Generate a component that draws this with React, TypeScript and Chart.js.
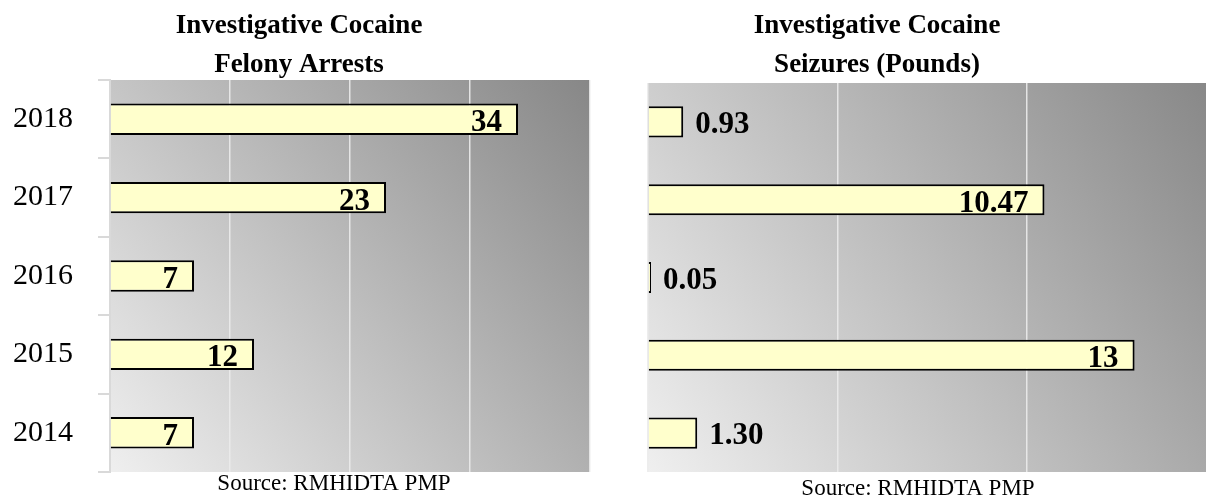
import React, { useEffect, useRef } from 'react';
import { Chart, registerables } from 'chart.js';

Chart.register(...registerables);

// ---- data ----
const years = ['2018', '2017', '2016', '2015', '2014'];
const arrestValues = [34, 23, 7, 12, 7];
const arrestLabels = ['34', '23', '7', '12', '7'];
const seizureValues = [0.93, 10.47, 0.05, 12.85, 1.3];
const seizureLabels = ['0.93', '10.47', '0.05', '13', '1.30'];
const arrestTitle = ['Investigative Cocaine', 'Felony Arrests'];
const seizureTitle = ['Investigative Cocaine', 'Seizures (Pounds)'];
const sourceText = 'Source: RMHIDTA PMP';
const arrestAxis = { max: 40, step: 10 };
const seizureAxis = { max: 15, step: 5 };

const SERIF = '"Liberation Serif", "Times New Roman", serif';

type PanelProps = {
  left: number;
  width: number;
  values: number[];
  labels: string[];
  title: string[];
  axisMax: number;
  axisStep: number;
  showYAxis: boolean;
  padding: { top: number; bottom: number; left: number; right: number };
  titleX: number;
  sourceX: number;
  sourceY: number;
  insideThreshold: number;
};

function Panel(p: PanelProps) {
  const ref = useRef<HTMLCanvasElement | null>(null);

  useEffect(() => {
    const canvas = ref.current;
    if (!canvas) return;

    const bgPlugin = {
      id: 'bgGradient',
      beforeDraw(chart: any) {
        const { ctx, chartArea: a } = chart;
        const g = ctx.createLinearGradient(a.left, a.bottom, a.right, a.top);
        g.addColorStop(0, '#efefef');
        g.addColorStop(1, '#878787');
        ctx.save();
        ctx.fillStyle = g;
        ctx.fillRect(a.left, a.top, a.right - a.left, a.bottom - a.top);
        ctx.restore();
      },
    };

    const labelPlugin = {
      id: 'valueLabels',
      afterDatasetsDraw(chart: any) {
        const { ctx } = chart;
        const meta = chart.getDatasetMeta(0);
        ctx.save();
        ctx.font = `bold 31px ${SERIF}`;
        ctx.fillStyle = '#000';
        ctx.textBaseline = 'alphabetic';
        meta.data.forEach((bar: any, i: number) => {
          const { x, y } = bar.getProps(['x', 'y'], true);
          const v = p.values[i];
          if (v > p.insideThreshold) {
            ctx.textAlign = 'right';
            ctx.fillText(p.labels[i], x - 16, y + 12);
          } else {
            ctx.textAlign = 'left';
            ctx.fillText(p.labels[i], x + 12, y + 11);
          }
        });
        ctx.restore();
      },
    };

    const textPlugin = {
      id: 'titles',
      afterDraw(chart: any) {
        const { ctx } = chart;
        ctx.save();
        ctx.fillStyle = '#000';
        ctx.textAlign = 'center';
        ctx.textBaseline = 'alphabetic';
        ctx.font = `bold 27px ${SERIF}`;
        ctx.fillText(p.title[0], p.titleX, 33);
        ctx.fillText(p.title[1], p.titleX, 72);
        ctx.font = `23px ${SERIF}`;
        ctx.fillText(sourceText, p.sourceX, p.sourceY);
        ctx.restore();
      },
    };

    const chart = new Chart(canvas, {
      type: 'bar',
      data: {
        labels: years,
        datasets: [
          {
            data: p.values,
            backgroundColor: '#FFFFCC',
            borderColor: '#000000',
            borderWidth: 2,
            barPercentage: 0.4,
            categoryPercentage: 1,
            minBarLength: 3,
          },
        ],
      },
      options: {
        indexAxis: 'y',
        responsive: false,
        animation: false,
        layout: { padding: p.padding },
        plugins: {
          legend: { display: false },
          tooltip: { enabled: false },
          title: { display: false },
        },
        scales: {
          x: {
            type: 'linear',
            min: 0,
            max: p.axisMax,
            ticks: { display: false, stepSize: p.axisStep },
            grid: {
              color: 'rgba(235,235,235,0.9)',
              lineWidth: 1.5,
              drawTicks: false,
            },
            border: { display: false },
            afterFit: (s: any) => {
              s.height = 0;
              s.paddingLeft = 0;
              s.paddingRight = 0;
            },
          },
          y: {
            type: 'category',
            display: p.showYAxis,
            grid: {
              display: true,
              drawOnChartArea: false,
              drawTicks: true,
              tickLength: 12,
              color: '#d9d9d9',
              lineWidth: 2,
              offset: true,
            },
            border: { display: true, color: '#d9d9d9', width: 2 },
            ticks: {
              color: '#000',
              font: { family: SERIF, size: 30 },
              padding: 25,
            },
            afterFit: (s: any) => {
              if (p.showYAxis) s.width = 110;
              s.paddingTop = 0;
              s.paddingBottom = 0;
            },
          },
        },
      },
      plugins: [bgPlugin, labelPlugin, textPlugin],
    } as any);

    return () => {
      chart.destroy();
    };
  }, []);

  return (
    <canvas
      ref={ref}
      width={p.width}
      height={497}
      style={{
        position: 'absolute',
        left: p.left,
        top: 0,
        width: p.width,
        height: 497,
      }}
    />
  );
}

export default function App() {
  return (
    <div
      style={{
        position: 'absolute',
        left: 0,
        top: 0,
        width: 1206,
        height: 497,
        overflow: 'hidden',
        background: '#ffffff',
      }}
    >
      <Panel
        left={0}
        width={600}
        values={arrestValues}
        labels={arrestLabels}
        title={arrestTitle}
        axisMax={arrestAxis.max}
        axisStep={arrestAxis.step}
        showYAxis={true}
        padding={{ top: 80, bottom: 25, left: 0, right: 10 }}
        titleX={299}
        sourceX={334}
        sourceY={490}
        insideThreshold={0}
      />
      <Panel
        left={600}
        width={616}
        values={seizureValues}
        labels={seizureLabels}
        title={seizureTitle}
        axisMax={seizureAxis.max}
        axisStep={seizureAxis.step}
        showYAxis={false}
        padding={{ top: 83, bottom: 25, left: 48, right: 0 }}
        titleX={277}
        sourceX={318}
        sourceY={495}
        insideThreshold={5}
      />
    </div>
  );
}
